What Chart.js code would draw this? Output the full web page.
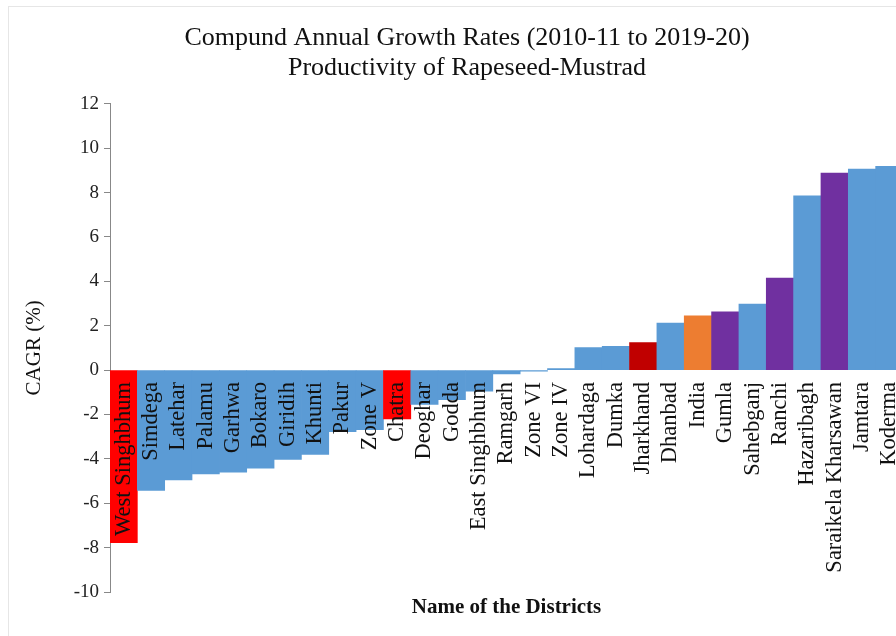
<!DOCTYPE html>
<html>
<head>
<meta charset="utf-8">
<script src="https://cdn.jsdelivr.net/npm/chart.js@4"></script>
<style>
  html, body { margin: 0; padding: 0; background: #fff; overflow: hidden; }
  #wrap { position: relative; width: 896px; height: 636px; overflow: hidden; }
  #frame { position: absolute; left: 8px; top: 6px; width: 1000px; height: 700px;
           border-left: 1px solid #e6e6e6; border-top: 1px solid #e6e6e6; pointer-events: none; }
</style>
</head>
<body>
<div id="wrap">
  <canvas id="chart" width="934" height="636"></canvas>
  <div id="frame"></div>
</div>
<script>
// Data
const districts = ['West Singhbhum', 'Simdega', 'Latehar', 'Palamu', 'Garhwa', 'Bokaro', 'Giridih',
  'Khunti', 'Pakur', 'Zone V', 'Chatra', 'Deoghar', 'Godda', 'East Singhbhum', 'Ramgarh', 'Zone VI',
  'Zone IV', 'Lohardaga', 'Dumka', 'Jharkhand', 'Dhanbad', 'India', 'Gumla', 'Sahebganj', 'Ranchi',
  'Hazaribagh', 'Saraikela Kharsawan', 'Jamtara', 'Koderma'];
const cagr = [-7.78, -5.42, -4.95, -4.68, -4.60, -4.42, -4.02, -3.80, -2.78, -2.68, -2.20, -1.55,
  -1.33, -0.95, -0.17, -0.05, 0.07, 1.02, 1.07, 1.24, 2.12, 2.45, 2.62, 2.98, 4.15, 7.85, 8.88, 9.06, 9.18];
const yTicks = { min: -10, max: 12, step: 2 };

// highlight groups
const redGroup = ['West Singhbhum', 'Chatra'];
const stateGroup = ['Jharkhand'];
const nationGroup = ['India'];
const purpleGroup = ['Gumla', 'Ranchi', 'Saraikela Kharsawan'];

function barColor(name) {
  if (redGroup.includes(name)) return '#FF0000';
  if (stateGroup.includes(name)) return '#C00000';
  if (nationGroup.includes(name)) return '#ED7D31';
  if (purpleGroup.includes(name)) return '#7030A0';
  return '#5B9BD5';
}

const serif = 'Liberation Serif, Times New Roman, serif';

new Chart(document.getElementById('chart'), {
  type: 'bar',
  data: {
    labels: districts,
    datasets: [{
      data: cagr,
      backgroundColor: districts.map(barColor),
      borderWidth: 0,
      barPercentage: 1,
      categoryPercentage: 1
    }]
  },
  options: {
    responsive: false,
    devicePixelRatio: 1,
    animation: false,
    layout: { padding: { top: 23, left: 31, right: 31, bottom: 6 } },
    plugins: {
      legend: { display: false },
      tooltip: { enabled: false },
      title: {
        display: true,
        text: ['Compund Annual Growth Rates (2010-11 to 2019-20)', 'Productivity of Rapeseed-Mustrad'],
        font: { family: serif, size: 26, weight: 'normal', lineHeight: 1.15 },
        color: '#111',
        padding: { top: 0, bottom: 21 }
      }
    },
    scales: {
      x: {
        position: { y: 0 },
        grid: { display: false },
        border: { display: false },
        ticks: {
          z: 1,
          autoSkip: false,
          minRotation: 90,
          maxRotation: 90,
          padding: 4,
          color: '#111',
          font: { family: serif, size: 22.5 }
        }
      },
      // bottom axis only carries the axis title, centred under the plot
      xTitle: {
        type: 'category',
        labels: districts,
        position: 'bottom',
        afterFit: s => { s.height = 38; },
        grid: { display: false },
        border: { display: false },
        ticks: { display: false },
        title: {
          display: true,
          text: 'Name of the Districts',
          color: '#111',
          font: { family: serif, size: 21, weight: 'bold' },
          padding: { top: 0, bottom: 10 }
        }
      },
      y: {
        min: yTicks.min,
        max: yTicks.max,
        afterFit: s => { s.width = 79; },
        ticks: {
          stepSize: yTicks.step,
          padding: 5,
          color: '#222',
          font: { family: serif, size: 19 }
        },
        grid: { drawOnChartArea: false, tickLength: 6, color: '#888' },
        border: { color: '#888' },
        title: {
          display: true,
          text: 'CAGR (%)',
          color: '#111',
          font: { family: serif, size: 21 },
          padding: { top: -9, bottom: 0 }
        }
      }
    }
  }
});
</script>
</body>
</html>
